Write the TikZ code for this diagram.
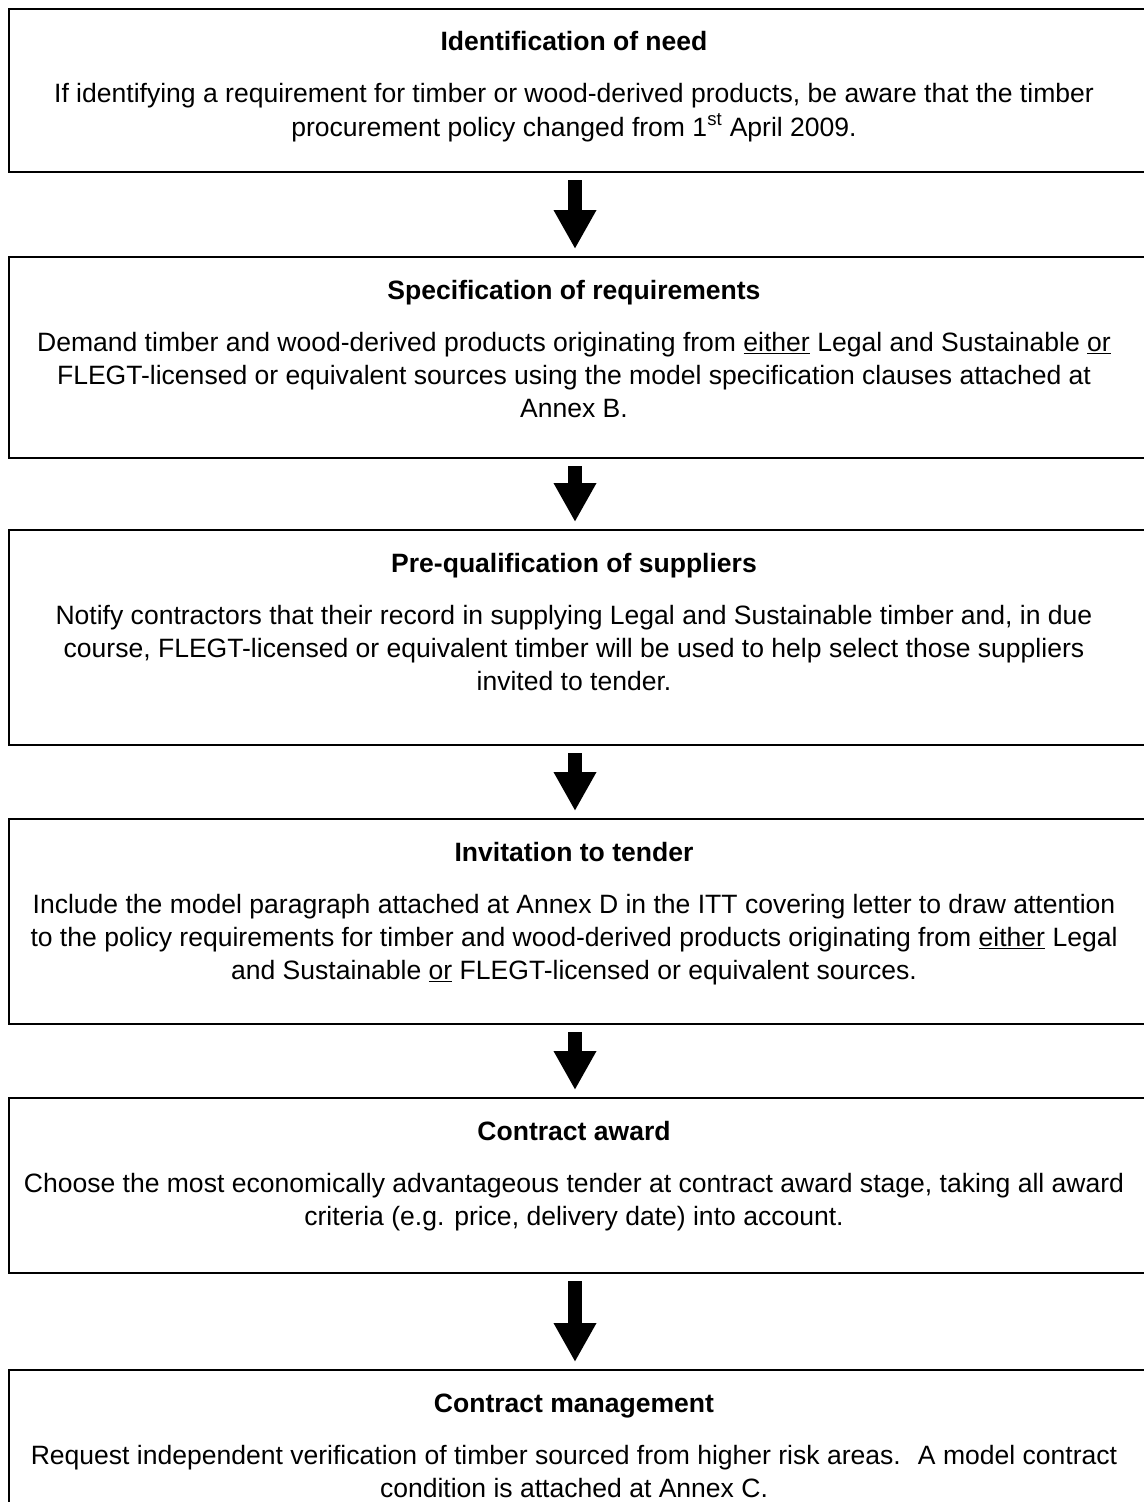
\documentclass[tikz,border=0pt]{standalone}
\usepackage{fontspec}
\setmainfont{Liberation Sans}
\usetikzlibrary{arrows.meta,positioning}

\newcommand{\stagefont}{\fontsize{19.9pt}{24.75pt}\selectfont}

\begin{document}
\begin{tikzpicture}[x=0.75pt, y=-0.75pt,
        stage/.style={rectangle, draw, line width=1.5pt, minimum width=856.5pt, inner sep=0pt, anchor=north west},
        stagetext/.style={anchor=base, align=center, font=\stagefont, inner sep=0pt},
        flow/.style={line width=10.5pt, -{Triangle[width=30pt,length=29.25pt]}, shorten <=5.25pt, shorten >=5.25pt}
    ]
    \useasboundingbox (0,0) rectangle (1144,1502);
    \clip (0,0) rectangle (1144,1502);

    % Identification of need
    \node[stage, minimum height=122.25pt] (need) at (8,8) {};
    \node[stagetext] (needtxt) at (574,136) {\textbf{Identification of need}\\[14.25pt]
        If identifying a requirement for timber or wood-derived products, be aware that the timber\\
        procurement policy changed from 1\textsuperscript{st} April 2009.};

    % Specification of requirements
    \node[stage, minimum height=150.75pt] (spec) at (8,256) {};
    \node[stagetext] (spectxt) at (574,417) {\textbf{Specification of requirements}\\[14.25pt]
        Demand timber and wood-derived products originating from \underline{either} Legal and Sustainable \underline{or}\\
        FLEGT-licensed or equivalent sources using the model specification clauses attached at\\
        Annex B.};

    % Pre-qualification of suppliers
    \node[stage, minimum height=161.25pt] (preq) at (8,529) {};
    \node[stagetext] (preqtxt) at (574,690) {\textbf{Pre-qualification of suppliers}\\[14.25pt]
        Notify contractors that their record in supplying Legal and Sustainable timber and, in due\\
        course, FLEGT-licensed or equivalent timber will be used to help select those suppliers\\
        invited to tender.};

    % Invitation to tender
    \node[stage, minimum height=153.75pt] (itt) at (8,818) {};
    \node[stagetext] (itttxt) at (574,979) {\textbf{Invitation to tender}\\[14.25pt]
        Include the model paragraph attached at Annex D in the ITT covering letter to draw attention\\
        to the policy requirements for timber and wood-derived products originating from \underline{either} Legal\\
        and Sustainable \underline{or} FLEGT-licensed or equivalent sources.};

    % Contract award
    \node[stage, minimum height=131.25pt] (award) at (8,1097) {};
    \node[stagetext] (awardtxt) at (574,1225) {\textbf{Contract award}\\[14.25pt]
        Choose the most economically advantageous tender at contract award stage, taking all award\\
        criteria (e.g. price, delivery date) into account.};

    % Contract management
    \node[stage, minimum height=143.25pt] (mgmt) at (8,1369) {};
    \node[stagetext] (mgmttxt) at (574,1497) {\textbf{Contract management}\\[14.25pt]
        Request independent verification of timber sourced from higher risk areas.~ A model contract\\
        condition is attached at Annex C.};

    % flow arrows
    \draw[flow] ([xshift=-3.75pt]need.south) -- ([xshift=-3.75pt]spec.north);
    \draw[flow] ([xshift=-3.75pt]spec.south) -- ([xshift=-3.75pt]preq.north);
    \draw[flow] ([xshift=-3.75pt]preq.south) -- ([xshift=-3.75pt]itt.north);
    \draw[flow] ([xshift=-3.75pt]itt.south) -- ([xshift=-3.75pt]award.north);
    \draw[flow] ([xshift=-3.75pt]award.south) -- ([xshift=-3.75pt]mgmt.north);
\end{tikzpicture}
\end{document}
